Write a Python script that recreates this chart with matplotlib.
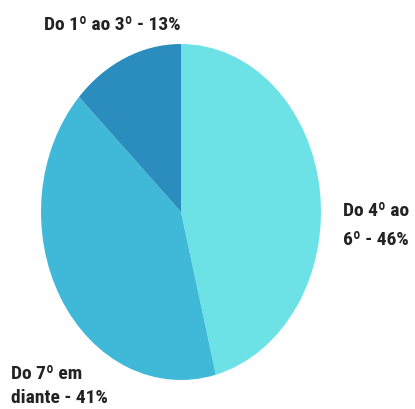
import matplotlib
matplotlib.use("Agg")
import matplotlib.pyplot as plt

categories = ["Do 4º ao\n6º", "Do 7º em\ndiante", "Do 1º ao 3º"]
values = [46, 41, 13]
colors = ["#6ce2e7", "#3fb9d7", "#2b8dbd"]

W, H = 415, 410
fig = plt.figure(figsize=(W / 100, H / 100), dpi=100)
ax = fig.add_axes([0, 0, 1, 1])
ax.pie(values, colors=colors, startangle=90, counterclock=False,
       radius=1, center=(0, 0), wedgeprops=dict(linewidth=0))
cx, cy, rx, ry = 181, 213, 140, 168
ax.set_aspect("auto")
ax.set_xlim(-cx / rx, (W - cx) / rx)
ax.set_ylim(-(H - cy) / ry, cy / ry)
ax.axis("off")

fam = ["Liberation Sans Narrow", "Roboto Condensed", "Liberation Sans", "DejaVu Sans"]
label_pos = [(343, [211, 240]), (11, [374, 398]), (44, [25])]
for cat, v, (px, ys) in zip(categories, values, label_pos):
    lines = f"{cat} - {v}%".split("\n")
    for line, py in zip(lines, ys):
        fig.text(px / W, 1 - py / H, line, ha="left", va="center",
                 fontsize=14, fontweight="bold", color="#222222", family=fam)

fig.savefig("out.png", dpi=100)
